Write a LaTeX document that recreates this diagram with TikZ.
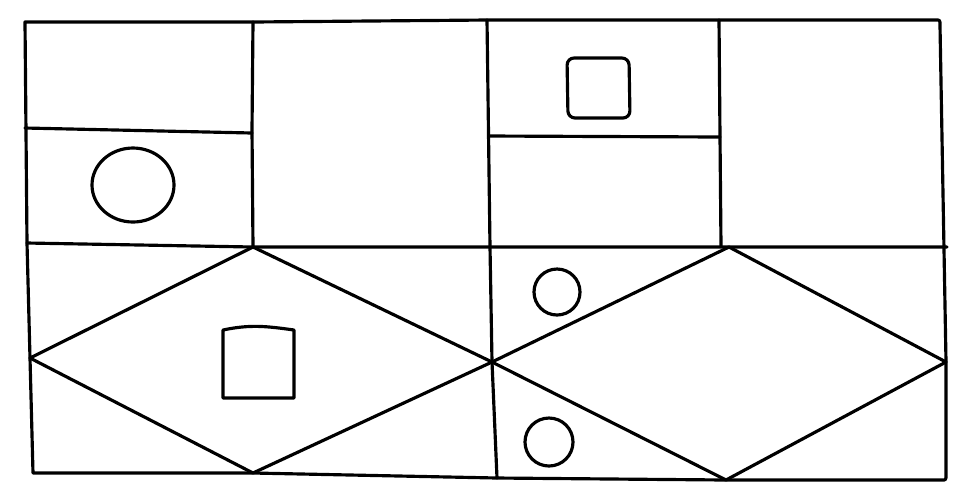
\documentclass[tikz,border=0pt]{standalone}
\begin{document}
\begin{tikzpicture}[x=0.01cm,y=-0.01cm,line join=round,line cap=round,
  ink/.style={draw=black,line width=0.9pt}]
\useasboundingbox (0,0) rectangle (964,487);
% outer corners and key points
\coordinate (TL) at (25,22);
\coordinate (TM1) at (253,22);
\coordinate (TM2) at (487,20);
\coordinate (TM3) at (719,20);
\coordinate (TR) at (938,20);
\coordinate (BL) at (33,473);
\coordinate (BM) at (497,478);
\coordinate (BR) at (944,480);
\coordinate (ML) at (27,243);
\coordinate (MR) at (947,247);
\coordinate (A) at (253,247);
\coordinate (B) at (490,247);
\coordinate (C) at (729,247);
\coordinate (L) at (30,358);
\coordinate (M) at (492,362);
\coordinate (R) at (946,362);
\coordinate (D1) at (253,473);
\coordinate (D2) at (726,480);
% outer frame
\draw[ink] (TL) -- (TM1) -- (TM2) -- (TM3) -- (TR) to[out=0,in=90] (940,26) -- (944,250) -- (R) -- (946,474) to[out=-90,in=0] (BR) -- (D2) -- (BM) -- (D1) -- (BL) -- (L) -- (ML) -- cycle;
% verticals
\draw[ink] (TM1) -- (252,130) -- (A);
\draw[ink] (TM2) -- (B) -- (M) -- (BM);
\draw[ink] (TM3) -- (720,137) -- (721,246);
% horizontals
\draw[ink] (ML) -- (A) -- (B) -- (C) -- (MR);
\draw[ink] (25,128) -- (252,133);
\draw[ink] (489,136) -- (720,137);
% diamonds
\draw[ink] (A) -- (L) -- (D1) -- (M) -- cycle;
\draw[ink] (C) -- (M) -- (D2) -- (R) -- cycle;
% shapes
\draw[ink] (133,185) ellipse [x radius=41, y radius=37];
\draw[ink] (567,58) [rounded corners=2pt] -- (629,58) -- (630,118) -- (568,118) -- cycle;
\draw[ink] (223,330) to[out=12,in=172] (294,330) -- (294,398) -- (223,398) -- cycle;
\draw[ink] (557,292) circle [radius=23];
\draw[ink] (549,442) circle [radius=24];
\end{tikzpicture}
\end{document}
